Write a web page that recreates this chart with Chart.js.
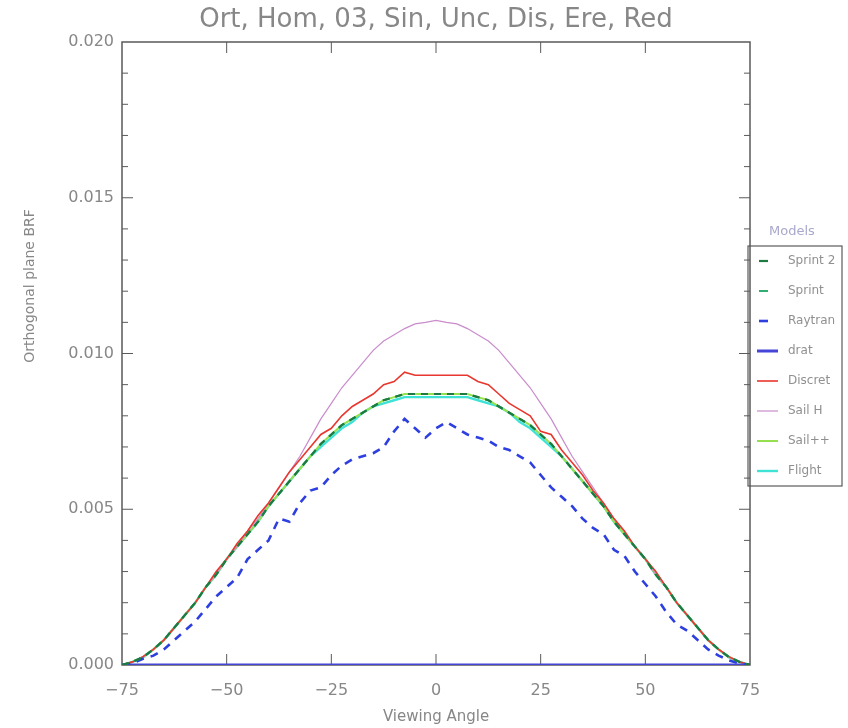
<!DOCTYPE html>
<html lang="en">
  <head>
    <meta charset="UTF-8" />
    <title>Orthogonal plane BRF</title>
    <script src="https://cdn.jsdelivr.net/npm/chart.js"></script>
    <style>
      body { margin: 0; background: #fff; }
    </style>
  </head>
  <body>
    <canvas id="brfChart" width="848" height="728"></canvas>
    <script>
      const angles = [
        -75, -72.5, -70, -67.5, -65, -62.5, -60, -57.5, -55, -52.5, -50, -47.5, -45, -42.5, -40, -37.5,
        -35, -32.5, -30, -27.5, -25, -22.5, -20, -17.5, -15, -12.5, -10, -7.5, -5, -2.5, 0,
        2.5, 5, 7.5, 10, 12.5, 15, 17.5, 20, 22.5, 25, 27.5, 30, 32.5, 35, 37.5,
        40, 42.5, 45, 47.5, 50, 52.5, 55, 57.5, 60, 62.5, 65, 67.5, 70, 72.5, 75
      ];

      const sprint2 = [
        0, 0.0001, 0.00025, 0.0005, 0.0008, 0.0012, 0.0016, 0.002, 0.0025, 0.0029, 0.0034, 0.0038, 0.0042, 0.0046, 0.0051, 0.0055,
        0.0059, 0.0063, 0.0067, 0.0071, 0.0074, 0.0077, 0.0079, 0.0081, 0.0083, 0.0085, 0.0086, 0.0087, 0.0087, 0.0087, 0.0087,
        0.0087, 0.0087, 0.0087, 0.0086, 0.0085, 0.0083, 0.0081, 0.0079, 0.0077, 0.0074, 0.0071, 0.0067, 0.0063, 0.0059, 0.0055,
        0.0051, 0.0046, 0.0042, 0.0038, 0.0034, 0.0029, 0.0025, 0.002, 0.0016, 0.0012, 0.0008, 0.0005, 0.00025, 0.0001, 0
      ];
      const sprint = [
        0, 0.0001, 0.00026, 0.0005, 0.0008, 0.0012, 0.0016, 0.002, 0.0025, 0.0029, 0.0034, 0.0038, 0.0042, 0.0046, 0.0051, 0.0055,
        0.0059, 0.0063, 0.0067, 0.0071, 0.0074, 0.0077, 0.0079, 0.0081, 0.0083, 0.0085, 0.0086, 0.0087, 0.0087, 0.0087, 0.0087,
        0.0087, 0.0087, 0.0087, 0.0086, 0.0085, 0.0083, 0.0081, 0.0079, 0.0077, 0.0074, 0.0071, 0.0067, 0.0063, 0.0059, 0.0055,
        0.0051, 0.0046, 0.0042, 0.0038, 0.0034, 0.0029, 0.0025, 0.002, 0.0016, 0.0012, 0.0008, 0.0005, 0.00026, 0.0001, 0
      ];
      const raytran = [
        0, 0.00005, 0.0002, 0.0003, 0.0005, 0.0008, 0.0011, 0.0014, 0.0018, 0.0022, 0.0025, 0.0028, 0.0034, 0.0037, 0.004, 0.0047,
        0.0046, 0.0052, 0.0056, 0.0057, 0.0061, 0.0064, 0.0066, 0.0067, 0.0068, 0.007, 0.0075, 0.0079, 0.0076, 0.0073, 0.0076,
        0.0078, 0.0076, 0.0074, 0.0073, 0.0072, 0.007, 0.0069, 0.0067, 0.0065, 0.0061, 0.0057, 0.0054, 0.0051, 0.0047, 0.0044,
        0.0042, 0.0037, 0.0035, 0.003, 0.0026, 0.0022, 0.0017, 0.0013, 0.0011, 0.0008, 0.0005, 0.0003, 0.00015, 0.00005, 0
      ];
      const drat = [
        0, 0, 0, 0, 0, 0, 0, 0, 0, 0, 0, 0, 0, 0, 0, 0,
        0, 0, 0, 0, 0, 0, 0, 0, 0, 0, 0, 0, 0, 0, 0,
        0, 0, 0, 0, 0, 0, 0, 0, 0, 0, 0, 0, 0, 0, 0,
        0, 0, 0, 0, 0, 0, 0, 0, 0, 0, 0, 0, 0, 0, 0
      ];
      const discret = [
        0, 0.0001, 0.00027, 0.0005, 0.0008, 0.0012, 0.0016, 0.002, 0.0025, 0.003, 0.0034, 0.0039, 0.0043, 0.0048, 0.0052, 0.0057,
        0.0062, 0.0066, 0.007, 0.0074, 0.0076, 0.008, 0.0083, 0.0085, 0.0087, 0.009, 0.0091, 0.0094, 0.0093, 0.0093, 0.0093,
        0.0093, 0.0093, 0.0093, 0.0091, 0.009, 0.0087, 0.0084, 0.0082, 0.008, 0.0075, 0.0074, 0.0069, 0.0065, 0.0061, 0.0056,
        0.0052, 0.0047, 0.0043, 0.0038, 0.0034, 0.003, 0.0025, 0.002, 0.0016, 0.0012, 0.0008, 0.0005, 0.00027, 0.0001, 0
      ];
      const sailH = [
        0, 0.0001, 0.00025, 0.0005, 0.0008, 0.0012, 0.0016, 0.002, 0.0025, 0.0029, 0.0034, 0.0038, 0.0043, 0.0047, 0.0052, 0.0057,
        0.0062, 0.0067, 0.0073, 0.0079, 0.0084, 0.0089, 0.0093, 0.0097, 0.0101, 0.0104, 0.0106, 0.0108, 0.01095, 0.011, 0.01106,
        0.011, 0.01095, 0.0108, 0.0106, 0.0104, 0.0101, 0.0097, 0.0093, 0.0089, 0.0084, 0.0079, 0.0073, 0.0067, 0.0062, 0.0057,
        0.0052, 0.0047, 0.0043, 0.0038, 0.0034, 0.0029, 0.0025, 0.002, 0.0016, 0.0012, 0.0008, 0.0005, 0.00025, 0.0001, 0
      ];
      const sailPP = [
        0, 0.0001, 0.00025, 0.0005, 0.0008, 0.0012, 0.0016, 0.002, 0.0025, 0.0029, 0.0034, 0.0038, 0.0042, 0.0046, 0.0051, 0.0055,
        0.0059, 0.0063, 0.0067, 0.0071, 0.0074, 0.0077, 0.0079, 0.0081, 0.0083, 0.0085, 0.0086, 0.0087, 0.0087, 0.0087, 0.0087,
        0.0087, 0.0087, 0.0087, 0.0086, 0.0085, 0.0083, 0.0081, 0.0079, 0.0077, 0.0074, 0.0071, 0.0067, 0.0063, 0.0059, 0.0055,
        0.0051, 0.0046, 0.0042, 0.0038, 0.0034, 0.0029, 0.0025, 0.002, 0.0016, 0.0012, 0.0008, 0.0005, 0.00025, 0.0001, 0
      ];
      const flight = [
        0, 0.0001, 0.00024, 0.0005, 0.0008, 0.0012, 0.0016, 0.002, 0.0025, 0.0029, 0.0034, 0.0038, 0.0042, 0.0046, 0.0051, 0.0055,
        0.0059, 0.0063, 0.0067, 0.007, 0.0073, 0.0076, 0.0078, 0.0081, 0.0083, 0.0084, 0.0085, 0.0086, 0.0086, 0.0086, 0.0086,
        0.0086, 0.0086, 0.0086, 0.0085, 0.0084, 0.0083, 0.0081, 0.0078, 0.0076, 0.0073, 0.007, 0.0067, 0.0063, 0.0059, 0.0055,
        0.0051, 0.0046, 0.0042, 0.0038, 0.0034, 0.0029, 0.0025, 0.002, 0.0016, 0.0012, 0.0008, 0.0005, 0.00024, 0.0001, 0
      ];

      const xTicks = [-75, -50, -25, 0, 25, 50, 75];
      const yTicks = [0, 0.005, 0.01, 0.015, 0.02];
      const legendTitle = "Models";
      const yTitle = "Orthogonal plane BRF";

      const series = [
        { label: "Sprint 2", values: sprint2, color: "#1e7a40", width: 2.2, dash: [7, 6] },
        { label: "Sprint", values: sprint, color: "#2fb070", width: 2, dash: [7, 6] },
        { label: "Raytran", values: raytran, color: "#2e3fe0", width: 2.6, dash: [8, 7] },
        { label: "drat", values: drat, color: "#4545d8", width: 3, dash: [] },
        { label: "Discret", values: discret, color: "#e8372e", width: 1.6, dash: [] },
        { label: "Sail H", values: sailH, color: "#c98ccc", width: 1.2, dash: [] },
        { label: "Sail++", values: sailPP, color: "#96e050", width: 2, dash: [] },
        { label: "Flight", values: flight, color: "#40e2d6", width: 2.4, dash: [] },
      ];

      const textColor = "#878787";
      const axisColor = "#5a5a5a";

      // IDL-like box with inward ticks on every side, plus the side legend
      const boxTicks = {
        id: "boxTicks",
        beforeDatasetsDraw(chart) {
          const { ctx, chartArea: a, scales } = chart;
          const x = scales.x, y = scales.y;
          ctx.save();
          ctx.strokeStyle = axisColor;
          ctx.lineWidth = 1.5;
          ctx.strokeRect(a.left, a.top, a.right - a.left, a.bottom - a.top);
          ctx.lineWidth = 1;
          ctx.beginPath();
          xTicks.slice(1, -1).forEach((v) => {
            const px = x.getPixelForValue(v);
            ctx.moveTo(px, a.bottom); ctx.lineTo(px, a.bottom - 11);
            ctx.moveTo(px, a.top); ctx.lineTo(px, a.top + 11);
          });
          for (let k = 1; k < 20; k++) {
            const len = k % 5 === 0 ? 11 : 6;
            const py = y.getPixelForValue(k * 0.001);
            ctx.moveTo(a.left, py); ctx.lineTo(a.left + len, py);
            ctx.moveTo(a.right, py); ctx.lineTo(a.right - len, py);
          }
          ctx.stroke();
          ctx.restore();
        },
        afterDraw(chart) {
          const { ctx } = chart;
          ctx.save();
          // y axis title sits above the middle, as in the original plot
          ctx.translate(30, 286);
          ctx.rotate(-Math.PI / 2);
          ctx.font = "14px 'DejaVu Sans'";
          ctx.fillStyle = textColor;
          ctx.textAlign = "center";
          ctx.textBaseline = "middle";
          ctx.fillText(yTitle, 0, 0);
          ctx.restore();

          const left = 748, top = 246, w = 94, rowH = 30;
          ctx.save();
          ctx.font = "13px 'DejaVu Sans'";
          ctx.fillStyle = "#a8a8cc";
          ctx.textAlign = "left";
          ctx.textBaseline = "middle";
          ctx.fillText(legendTitle, 769, 232);
          ctx.strokeStyle = axisColor;
          ctx.lineWidth = 1.2;
          ctx.strokeRect(left, top, w, series.length * rowH);
          ctx.font = "12px 'DejaVu Sans'";
          series.forEach((s, i) => {
            const cy = top + 15 + i * rowH;
            ctx.strokeStyle = s.color;
            ctx.lineWidth = s.width;
            ctx.beginPath();
            if (s.dash.length) {
              ctx.moveTo(759, cy); ctx.lineTo(768, cy);
            } else {
              ctx.moveTo(757, cy); ctx.lineTo(778, cy);
            }
            ctx.stroke();
            ctx.fillStyle = "#909090";
            ctx.fillText(s.label, 788, cy);
          });
          ctx.restore();
        },
      };

      new Chart(document.getElementById("brfChart").getContext("2d"), {
        type: "line",
        data: {
          datasets: series.map((s) => ({
            label: s.label,
            data: angles.map((a, i) => ({ x: a, y: s.values[i] })),
            borderColor: s.color,
            backgroundColor: s.color,
            borderWidth: s.width,
            borderDash: s.dash,
            pointRadius: 0,
            tension: 0,
            fill: false,
          })),
        },
        options: {
          responsive: false,
          animation: false,
          layout: { padding: { left: 0, right: 98, top: 0, bottom: 0 } },
          plugins: {
            legend: { display: false },
            tooltip: { enabled: false },
            title: {
              display: true,
              text: "Ort, Hom, 03, Sin, Unc, Dis, Ere, Red",
              fullSize: false,
              color: textColor,
              font: { family: "DejaVu Sans", size: 26, weight: "normal" },
              padding: { top: 5, bottom: 5.8 },
            },
          },
          scales: {
            x: {
              type: "linear",
              min: -75,
              max: 75,
              afterFit: (s) => { s.height = 63; },
              afterBuildTicks: (s) => { s.ticks = xTicks.map((v) => ({ value: v })); },
              grid: { display: false, drawTicks: false },
              border: { display: false },
              ticks: {
                color: textColor,
                font: { family: "DejaVu Sans", size: 16 },
                padding: 16,
                maxRotation: 0,
                callback: (v) => String(v).replace("-", "\u2212"),
              },
              title: {
                display: true,
                text: "Viewing Angle",
                color: textColor,
                font: { family: "DejaVu Sans", size: 15 },
                padding: { top: 0, bottom: 2 },
              },
            },
            y: {
              min: 0,
              max: 0.02,
              afterFit: (s) => { s.width = 122; },
              afterBuildTicks: (s) => { s.ticks = yTicks.map((v) => ({ value: v })); },
              grid: { display: false, drawTicks: false },
              border: { display: false },
              ticks: {
                color: textColor,
                font: { family: "DejaVu Sans", size: 16 },
                padding: 8,
                callback: (v) => v.toFixed(3),
              },
            },
          },
        },
        plugins: [boxTicks],
      });
    </script>
  </body>
</html>
